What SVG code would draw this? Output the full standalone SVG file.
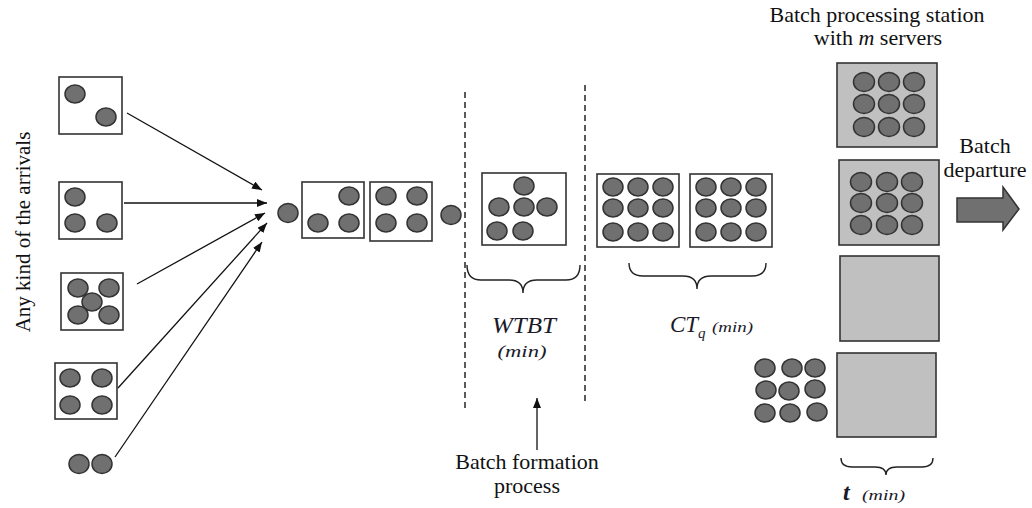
<svg xmlns="http://www.w3.org/2000/svg" width="1032" height="508" viewBox="0 0 1032 508">
  <defs>
    <style>
      .box { fill: #fff; stroke: #333; stroke-width: 1.6; }
      .srv { fill: #c0c0c0; stroke: #333; stroke-width: 1.6; }
      .job { fill: #707070; stroke: #333; stroke-width: 1.5; }
      .link { fill: none; stroke: #111; stroke-width: 1.3; }
      .dash { fill: none; stroke: #5a5a5a; stroke-width: 2; stroke-dasharray: 6 4; }
      .brace { fill: none; stroke: #222; stroke-width: 1.4; }
      text { font-family: 'Liberation Serif', 'DejaVu Serif', serif; }
      .t { fill: #111; font-size: 22px; }
      .it { font-style: italic; fill: #1a1a2a; }
    </style>
    <marker id="ah" viewBox="0 0 10 8" refX="10" refY="4" markerWidth="10" markerHeight="8" markerUnits="userSpaceOnUse" orient="auto">
      <path d="M0,0 L10,4 L0,8 Z" fill="#111"/>
    </marker>
  </defs>

  <rect width="1032" height="508" fill="#fff"/>

  <!-- vertical caption on the left -->
  <text class="t" font-size="21" transform="translate(30,232) rotate(-90)" text-anchor="middle" style="font-size:21px">Any kind of the arrivals</text>

  <!-- arrival batches -->
  <g id="arrival-1">
    <rect class="box" x="59" y="77" width="63" height="57"/>
    <ellipse class="job" cx="75" cy="94" rx="10" ry="9"/>
    <ellipse class="job" cx="106" cy="117" rx="10" ry="9"/>
  </g>
  <g id="arrival-2">
    <rect class="box" x="59" y="182" width="63" height="57"/>
    <ellipse class="job" cx="75" cy="197" rx="10" ry="9"/>
    <ellipse class="job" cx="75" cy="223" rx="10" ry="9"/>
    <ellipse class="job" cx="107" cy="223" rx="10" ry="9"/>
  </g>
  <g id="arrival-3">
    <rect class="box" x="61" y="273" width="62" height="57"/>
    <ellipse class="job" cx="78" cy="288" rx="10" ry="9"/>
    <ellipse class="job" cx="109" cy="288" rx="10" ry="9"/>
    <ellipse class="job" cx="92" cy="302" rx="10" ry="9"/>
    <ellipse class="job" cx="78" cy="315" rx="10" ry="9"/>
    <ellipse class="job" cx="109" cy="315" rx="10" ry="9"/>
  </g>
  <g id="arrival-4">
    <rect class="box" x="55" y="363" width="62" height="56"/>
    <ellipse class="job" cx="70" cy="378" rx="10" ry="9"/>
    <ellipse class="job" cx="102" cy="378" rx="10" ry="9"/>
    <ellipse class="job" cx="70" cy="405" rx="10" ry="9"/>
    <ellipse class="job" cx="102" cy="405" rx="10" ry="9"/>
  </g>
  <g id="arrival-5">
    <ellipse class="job" cx="79" cy="464" rx="10" ry="9.5"/>
    <ellipse class="job" cx="102" cy="464" rx="10" ry="9.5"/>
  </g>

  <!-- connectors -->
  <g id="connectors">
    <line class="link" x1="127" y1="113" x2="262" y2="190" marker-end="url(#ah)"/>
    <line class="link" x1="124" y1="203" x2="267" y2="203" marker-end="url(#ah)"/>
    <line class="link" x1="137" y1="284" x2="265" y2="213" marker-end="url(#ah)"/>
    <line class="link" x1="118" y1="388" x2="267" y2="223" marker-end="url(#ah)"/>
    <line class="link" x1="115" y1="457" x2="262" y2="242" marker-end="url(#ah)"/>
    <line class="link" x1="537" y1="450" x2="537" y2="398" marker-end="url(#ah)"/>
  </g>

  <!-- queue in front of batch formation -->
  <g id="queue">
    <ellipse class="job" cx="288" cy="213" rx="10" ry="9.5"/>
    <rect class="box" x="302" y="182" width="62" height="56"/>
    <ellipse class="job" cx="349" cy="196" rx="10" ry="9"/>
    <ellipse class="job" cx="318" cy="223" rx="10" ry="9"/>
    <ellipse class="job" cx="349" cy="223" rx="10" ry="9"/>
    <rect class="box" x="370" y="182" width="62" height="59"/>
    <ellipse class="job" cx="386" cy="196" rx="10" ry="9"/>
    <ellipse class="job" cx="417" cy="196" rx="10" ry="9"/>
    <ellipse class="job" cx="386" cy="223" rx="10" ry="9"/>
    <ellipse class="job" cx="417" cy="223" rx="10" ry="9"/>
    <ellipse class="job" cx="451" cy="215" rx="10" ry="9.5"/>
  </g>

  <!-- batch formation zone -->
  <g id="formation">
    <line class="dash" x1="465" y1="92" x2="465" y2="410"/>
    <line class="dash" x1="585" y1="85" x2="585" y2="404"/>
    <rect class="box" x="482" y="173" width="84" height="72"/>
    <ellipse class="job" cx="524" cy="186" rx="10" ry="9"/>
    <ellipse class="job" cx="499" cy="207" rx="10" ry="9"/>
    <ellipse class="job" cx="524" cy="207" rx="10" ry="9"/>
    <ellipse class="job" cx="547" cy="207" rx="10" ry="9"/>
    <ellipse class="job" cx="497" cy="231" rx="10" ry="9"/>
    <ellipse class="job" cx="523" cy="231" rx="10" ry="9"/>
    <path class="brace" d="M467,265 Q467,280 481,280 L509,280 Q523,280 523,293 Q523,280 537,280 L566,280 Q580,280 580,265"/>
    <text class="it" x="524" y="333" font-size="23" text-anchor="middle" textLength="64" lengthAdjust="spacingAndGlyphs">WTBT</text>
    <text class="it" x="522" y="357" font-size="17" text-anchor="middle" textLength="49" lengthAdjust="spacingAndGlyphs">(min)</text>
    <text class="t" x="527" y="469" text-anchor="middle">Batch formation</text>
    <text class="t" x="527" y="493" text-anchor="middle">process</text>
  </g>

  <!-- formed batches waiting in queue -->
  <g id="waiting">
    <rect class="box" x="597" y="174" width="82" height="73"/>
    <ellipse class="job" cx="613" cy="187" rx="10" ry="9"/>
    <ellipse class="job" cx="638" cy="187" rx="10" ry="9"/>
    <ellipse class="job" cx="663" cy="187" rx="10" ry="9"/>
    <ellipse class="job" cx="613" cy="208" rx="10" ry="9"/>
    <ellipse class="job" cx="638" cy="208" rx="10" ry="9"/>
    <ellipse class="job" cx="663" cy="208" rx="10" ry="9"/>
    <ellipse class="job" cx="613" cy="232" rx="10" ry="9"/>
    <ellipse class="job" cx="638" cy="232" rx="10" ry="9"/>
    <ellipse class="job" cx="663" cy="232" rx="10" ry="9"/>
    <rect class="box" x="690" y="174" width="82" height="73"/>
    <ellipse class="job" cx="706" cy="187" rx="10" ry="9"/>
    <ellipse class="job" cx="731" cy="187" rx="10" ry="9"/>
    <ellipse class="job" cx="756" cy="187" rx="10" ry="9"/>
    <ellipse class="job" cx="706" cy="208" rx="10" ry="9"/>
    <ellipse class="job" cx="731" cy="208" rx="10" ry="9"/>
    <ellipse class="job" cx="756" cy="208" rx="10" ry="9"/>
    <ellipse class="job" cx="706" cy="232" rx="10" ry="9"/>
    <ellipse class="job" cx="731" cy="232" rx="10" ry="9"/>
    <ellipse class="job" cx="756" cy="232" rx="10" ry="9"/>
    <path class="brace" d="M629,263 Q629,276 643,276 L683,276 Q697,276 697,289 Q697,276 711,276 L752,276 Q766,276 766,263"/>
    <text class="it" x="670" y="332" font-size="23">CT</text>
    <text class="it" x="698" y="338" font-size="15">q</text>
    <text class="it" x="712" y="332" font-size="15" textLength="41" lengthAdjust="spacingAndGlyphs">(min)</text>
  </g>

  <!-- batch processing station -->
  <g id="station">
    <text class="t" x="877" y="22" text-anchor="middle">Batch processing station</text>
    <text class="t" x="878" y="45" text-anchor="middle">with <tspan font-style="italic">m</tspan> servers</text>
    <rect class="srv" x="837" y="63" width="100" height="84"/>
    <ellipse class="job" cx="864" cy="82" rx="10.5" ry="9.5"/>
    <ellipse class="job" cx="889" cy="82" rx="10.5" ry="9.5"/>
    <ellipse class="job" cx="914" cy="82" rx="10.5" ry="9.5"/>
    <ellipse class="job" cx="864" cy="104" rx="10.5" ry="9.5"/>
    <ellipse class="job" cx="889" cy="104" rx="10.5" ry="9.5"/>
    <ellipse class="job" cx="914" cy="104" rx="10.5" ry="9.5"/>
    <ellipse class="job" cx="864" cy="127" rx="10.5" ry="9.5"/>
    <ellipse class="job" cx="889" cy="127" rx="10.5" ry="9.5"/>
    <ellipse class="job" cx="914" cy="127" rx="10.5" ry="9.5"/>
    <rect class="srv" x="839" y="160" width="100" height="85"/>
    <ellipse class="job" cx="861" cy="182" rx="10.5" ry="9.5"/>
    <ellipse class="job" cx="887" cy="182" rx="10.5" ry="9.5"/>
    <ellipse class="job" cx="912" cy="182" rx="10.5" ry="9.5"/>
    <ellipse class="job" cx="861" cy="203" rx="10.5" ry="9.5"/>
    <ellipse class="job" cx="887" cy="203" rx="10.5" ry="9.5"/>
    <ellipse class="job" cx="912" cy="203" rx="10.5" ry="9.5"/>
    <ellipse class="job" cx="861" cy="225" rx="10.5" ry="9.5"/>
    <ellipse class="job" cx="887" cy="225" rx="10.5" ry="9.5"/>
    <ellipse class="job" cx="912" cy="225" rx="10.5" ry="9.5"/>
    <rect class="srv" x="840" y="256" width="99" height="85"/>
    <rect class="srv" x="837" y="353" width="99" height="84"/>
    <path class="brace" d="M841,458 Q841,467 852,467 L875,467 Q886,467 886,475 Q886,467 897,467 L922,467 Q933,467 933,458"/>
    <text class="it" x="843" y="500" font-size="24" font-weight="bold">t</text>
    <text class="it" x="862" y="500" font-size="15" textLength="43" lengthAdjust="spacingAndGlyphs">(min)</text>
  </g>

  <!-- batch waiting for a free server -->
  <g id="next-batch">
    <ellipse class="job" cx="765" cy="368" rx="10" ry="9"/>
    <ellipse class="job" cx="792" cy="368" rx="10" ry="9"/>
    <ellipse class="job" cx="815" cy="368" rx="10" ry="9"/>
    <ellipse class="job" cx="766" cy="390" rx="10" ry="9"/>
    <ellipse class="job" cx="789" cy="391" rx="10" ry="9"/>
    <ellipse class="job" cx="815" cy="389" rx="10" ry="9"/>
    <ellipse class="job" cx="765" cy="413" rx="10" ry="9"/>
    <ellipse class="job" cx="790" cy="413" rx="10" ry="9"/>
    <ellipse class="job" cx="817" cy="412" rx="10" ry="9"/>
  </g>

  <!-- departure -->
  <g id="departure">
    <text class="t" x="985" y="153" text-anchor="middle">Batch</text>
    <text class="t" x="985" y="177" text-anchor="middle">departure</text>
    <path d="M957,198 L1003,198 L1003,187 L1019,209 L1003,230 L1003,222 L957,222 Z" fill="#707070" stroke="#333" stroke-width="1.5"/>
  </g>
</svg>
